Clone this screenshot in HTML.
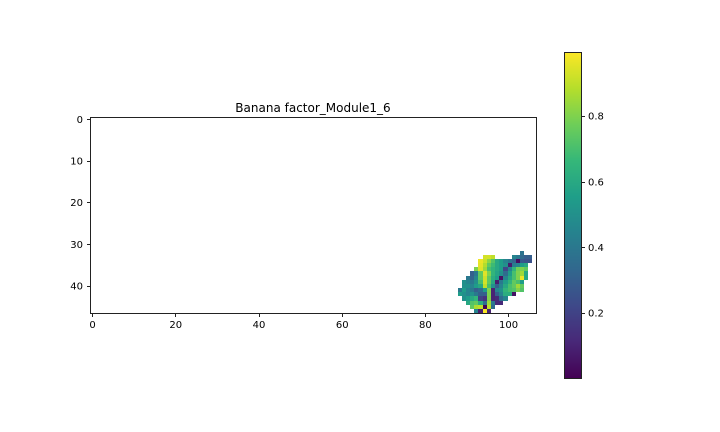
<!DOCTYPE html>
<html>
<head>
<meta charset="utf-8">
<style>
html,body{margin:0;padding:0;background:#fff;}
svg{display:block;}
text{font-family:"DejaVu Sans",sans-serif;fill:#000;}
</style>
</head>
<body>
<svg id="chart" xmlns="http://www.w3.org/2000/svg" width="720" height="432" viewBox="0 0 720 432">
<rect width="720" height="432" fill="#fff"/>
<text x="313" y="112" font-size="12" text-anchor="middle">Banana factor_Module1_6</text>
<g id="cells" shape-rendering="crispEdges"></g>
<rect x="90.5" y="117.5" width="446" height="196" fill="none" stroke="#222" stroke-width="1" shape-rendering="crispEdges"/>
<g id="xticks"></g>
<g id="yticks"></g>
<g id="cbar" shape-rendering="crispEdges"></g>
<rect x="564.5" y="52.5" width="17" height="326" fill="none" stroke="#222" stroke-width="1" shape-rendering="crispEdges"/>
<g id="cticks"></g>
</svg>
<script>
var xTickValues = [0, 20, 40, 60, 80, 100];
var yTickValues = [0, 10, 20, 30, 40];
var colorbarTicks = [0.2, 0.4, 0.6, 0.8];
var valueMin = 0.002;
var valueMax = 0.995;
var rowIndex = [32, 33, 34, 35, 36, 37, 38, 39, 40, 41, 42, 43, 44, 45, 46];
var rowStartColumn = [103, 94, 93, 93, 92, 91, 90, 89, 89, 88, 88, 89, 90, 91, 92];
var rowValues = [
  [.38],
  [.93,.93,.9,null,null,null,null,.45,.4,.34,.3,.3],
  [.97,.92,.82,.72,.6,.55,.45,.38,.32,.04,.28,.25,.25],
  [.96,.88,.75,.68,.6,.55,.5,.08,.42,.45,.55,.6],
  [.8,.95,.85,.7,.65,.6,.55,.22,.45,.65,.78,.8,.75],
  [.3,.4,.75,.95,.8,.65,.58,.5,.35,.55,.7,.8,.85,.6],
  [.4,.32,.45,.75,.92,.75,.62,.55,.05,.45,.6,.7,.8,.97,.6],
  [.5,.45,.4,.5,.7,.93,.75,.6,.08,.4,.55,.65,.75,.7,.55],
  [.5,.5,.45,.55,.6,.9,.7,.5,.3,.45,.6,.7,.75,.85,.75],
  [.4,.55,.45,.4,.3,.35,.55,.8,.1,.45,.5,.65,.7,.72,.8,.72],
  [.55,.5,.45,.5,.4,.3,.3,.8,.1,.3,.45,.62,.62,.05],
  [.5,.55,.6,.65,.2,.15,.8,.1,.12,.35,.45],
  [.6,.72,.75,.62,.35,.85,.4,.12,.12],
  [.75,.87,.9,.0,.9,.35],
  [.45,.08,.99,.1]
];
var colormapStops = ['#440154','#482878','#3e4989','#31688e','#26828e','#1f9e89','#35b779','#6ece58','#b5de2b','#fde725'];

var NS = 'http://www.w3.org/2000/svg';
function xScale(v){ return 92.6 + 4.16 * v; }
function yScale(v){ return 119.6 + 4.16 * v; }
function cellX(v){ return Math.round(xScale(v) + 1); }
function cbarScale(v){ return 378.5 - 328 * v; }
function hexToRgb(h){ return [parseInt(h.substr(1,2),16),parseInt(h.substr(3,2),16),parseInt(h.substr(5,2),16)]; }
function colorOf(v){
  var t = Math.max(0, Math.min(1, (v - valueMin) / (valueMax - valueMin))) * (colormapStops.length - 1);
  var i = Math.min(Math.floor(t), colormapStops.length - 2);
  var a = hexToRgb(colormapStops[i]), b = hexToRgb(colormapStops[i + 1]), f = t - i;
  return 'rgb(' + [0,1,2].map(function(k){ return Math.round(a[k] + (b[k] - a[k]) * f); }).join(',') + ')';
}
function makeLine(x1, y1, x2, y2){
  var l = document.createElementNS(NS, 'line');
  l.setAttribute('x1', x1); l.setAttribute('y1', y1);
  l.setAttribute('x2', x2); l.setAttribute('y2', y2);
  l.setAttribute('stroke', '#222'); l.setAttribute('stroke-width', '1');
  l.setAttribute('shape-rendering', 'crispEdges');
  return l;
}
function makeText(x, y, s, anchor){
  var t = document.createElementNS(NS, 'text');
  t.setAttribute('x', x); t.setAttribute('y', y);
  t.setAttribute('font-size', '10');
  t.setAttribute('text-anchor', anchor);
  t.textContent = s;
  return t;
}

var cells = document.getElementById('cells');
rowValues.forEach(function(vals, r){
  vals.forEach(function(v, c){
    if (v === null) return;
    var col = rowStartColumn[r] + c, row = rowIndex[r];
    var x0 = cellX(col - 0.5), x1 = cellX(col + 0.5);
    var y0 = Math.round(yScale(row - 0.5)), y1 = Math.round(yScale(row + 0.5));
    var el = document.createElementNS(NS, 'rect');
    
    
    el.setAttribute('x', x0); el.setAttribute('y', y0);
    el.setAttribute('width', x1 - x0); el.setAttribute('height', y1 - y0);
    el.setAttribute('fill', colorOf(v));
    cells.appendChild(el);
  });
});

var xg = document.getElementById('xticks');
xTickValues.forEach(function(v){
  var x = Math.floor(xScale(v)) + 0.5;
  var tick = makeLine(x, 313, x, 317);
  
  
  xg.appendChild(tick);
  var label = makeText(xScale(v), 328, String(v), 'middle');
  
  
  xg.appendChild(label);
});

var yg = document.getElementById('yticks');
yTickValues.forEach(function(v){
  var y = Math.floor(yScale(v)) + 0.5;
  var tick = makeLine(87, y, 90.5, y);
  
  
  yg.appendChild(tick);
  var label = makeText(83, yScale(v) + 3.4, String(v), 'end');
  
  
  yg.appendChild(label);
});

var cb = document.getElementById('cbar');
for (var py = 53; py < 378; py++) {
  var strip = document.createElementNS(NS, 'rect');
  
  
  strip.setAttribute('x', 565);
  strip.setAttribute('y', py);
  strip.setAttribute('width', 16);
  strip.setAttribute('height', 1);
  strip.setAttribute('fill', colorOf((378.5 - py - 0.5) / 328));
  cb.appendChild(strip);
}

var cg = document.getElementById('cticks');
colorbarTicks.forEach(function(v){
  var y = Math.round(cbarScale(v)) + 0.5;
  var tick = makeLine(581.5, y, 585, y);
  
  
  cg.appendChild(tick);
  var label = makeText(588, cbarScale(v) + 3.6, v.toFixed(1), 'start');
  
  
  cg.appendChild(label);
});
</script>
</body>
</html>
